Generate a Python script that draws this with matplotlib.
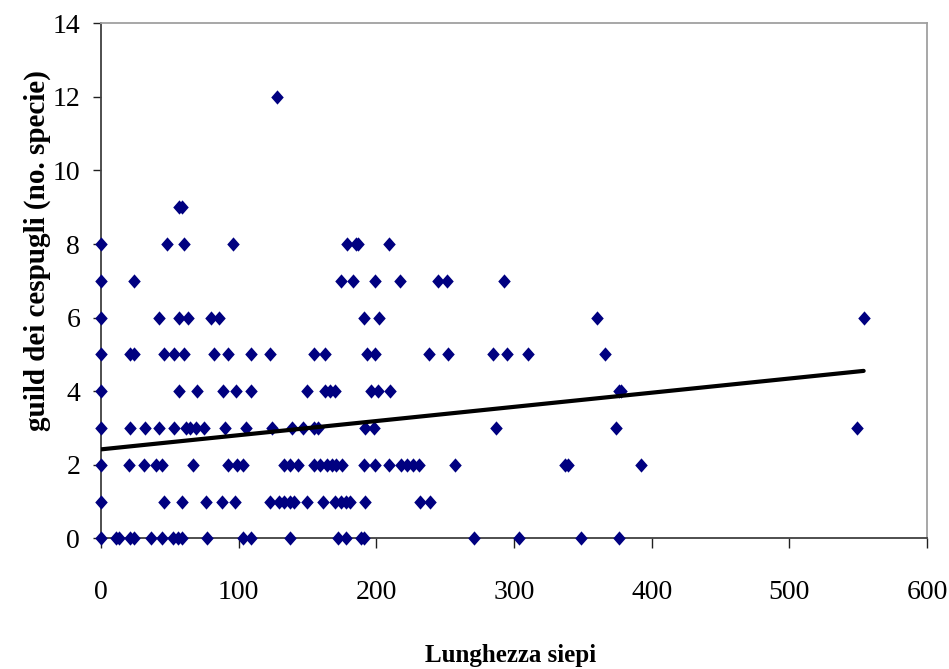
import numpy as np
import matplotlib.pyplot as plt

# Lunghezza siepi (x) per ogni valore di guild (y)
row_0 = [0, 11, 13, 21, 24, 36, 44, 52, 56, 59, 77, 103, 109, 137, 172, 178, 189, 191, 271, 304, 349, 376]
row_1 = [0, 46, 59, 76, 88, 97, 123, 129, 133, 137, 140, 150, 161, 170, 174, 178, 181, 192, 232, 239]
row_2 = [0, 20, 31, 40, 44, 67, 92, 99, 103, 133, 137, 143, 155, 159, 164, 168, 171, 175, 191, 199,
         209, 218, 222, 227, 231, 257, 337, 339, 392]
row_3 = [0, 21, 32, 42, 53, 62, 65, 69, 75, 90, 105, 124, 139, 147, 155, 158, 192, 198, 287, 374, 549]
row_4 = [0, 57, 70, 89, 98, 109, 150, 163, 166, 170, 196, 201, 210, 376, 378]
row_5 = [0, 21, 24, 46, 53, 60, 82, 92, 109, 123, 155, 163, 193, 199, 238, 252, 285, 295, 310, 366]
row_6 = [0, 42, 57, 63, 80, 86, 191, 202, 360, 554]
row_7 = [0, 24, 174, 183, 199, 217, 245, 251, 293]
row_8 = [0, 48, 60, 96, 179, 185, 187, 209]
row_9 = [57, 59]
row_12 = [128]

rows = {0: row_0, 1: row_1, 2: row_2, 3: row_3, 4: row_4, 5: row_5,
        6: row_6, 7: row_7, 8: row_8, 9: row_9, 12: row_12}

x = np.array([v for k in rows for v in rows[k]], dtype=float)
y = np.array([k for k in rows for v in rows[k]], dtype=float)

# retta di tendenza (molti punti sovrapposti non si vedono)
trend_intercept = 2.42
trend_slope = 0.00385
x_line = np.array([0, x.max()])

plt.rcParams['font.family'] = ['Liberation Serif', 'DejaVu Serif']

fig = plt.figure(figsize=(9.49, 6.69), dpi=100)
ax = fig.add_axes([0.1064, 0.1952, 0.8704, 0.77])

diamond = [(-0.44, 0), (0, 0.5), (0.44, 0), (0, -0.5), (-0.44, 0)]
ax.scatter(x, y, marker=diamond, s=105, color='#000080', linewidths=0,
           zorder=3, clip_on=False)
ax.plot(x_line, trend_intercept + trend_slope * x_line, color='black', lw=3, zorder=4,
        solid_capstyle='round')

ax.set_xlim(0, 600)
ax.set_ylim(0, 14)
ax.set_xticks(np.arange(0, 601, 100))
ax.set_yticks(np.arange(0, 15, 2))

for side in ['left', 'bottom']:
    ax.spines[side].set_color('#404040')
    ax.spines[side].set_linewidth(1.3)
for side in ['top', 'right']:
    ax.spines[side].set_color('#a0a0a0')
    ax.spines[side].set_linewidth(1.3)

ax.tick_params(axis='x', direction='out', length=7, width=1, pad=23, labelsize=20, colors='#202020')
ax.tick_params(axis='y', direction='out', length=6, width=1, pad=9, labelsize=20, colors='#202020')
for lab in ax.get_xticklabels() + ax.get_yticklabels():
    lab.set_color('black')

fig.text(0.039, 0.626, 'guild dei cespugli (no. specie)', rotation=90,
         ha='center', va='center', fontsize=21, fontweight='bold')
fig.text(0.538, 0.02, 'Lunghezza siepi', ha='center', va='center',
         fontsize=18, fontweight='bold')

fig.savefig('out.png', dpi=100)
